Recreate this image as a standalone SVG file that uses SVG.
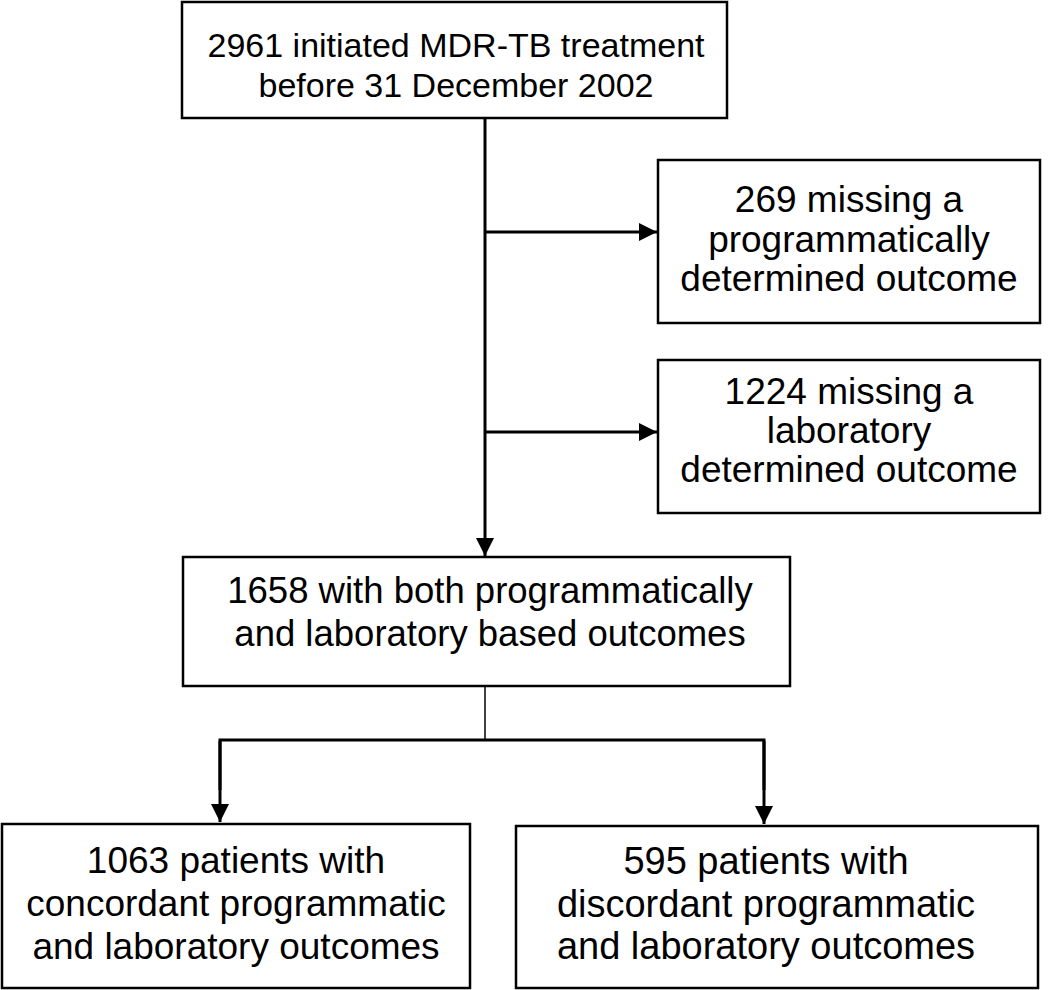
<svg xmlns="http://www.w3.org/2000/svg" width="1050" height="990" viewBox="0 0 1050 990">
<defs>
<style>
.box{fill:#fff;stroke:#000;stroke-width:2.5}
.t{font-family:"Liberation Sans",Arial,sans-serif;font-size:37px;fill:#000;text-anchor:middle}
.c{stroke:#000;stroke-width:3;fill:none}
.thin{stroke:#000;stroke-width:1.5;fill:none}
</style>
<marker id="ah" markerWidth="6" markerHeight="6" refX="6" refY="3" orient="auto" markerUnits="strokeWidth">
<path d="M0,0 L6,3 L0,6 Z" fill="#000"/>
</marker>
</defs>
<rect width="1050" height="990" fill="#fff"/>
<g id="connectors">
<line class="c" x1="485" y1="118" x2="485" y2="556" marker-end="url(#ah)"/>
<line class="c" x1="485" y1="232" x2="657" y2="232" marker-end="url(#ah)"/>
<line class="c" x1="485" y1="432" x2="657" y2="432" marker-end="url(#ah)"/>
<line class="thin" x1="485" y1="686" x2="485" y2="740"/>
<polyline class="c" points="220,790 220,740 764,740 764,790"/>
<line class="c" x1="220" y1="741" x2="220" y2="822" marker-end="url(#ah)"/>
<line class="c" x1="764" y1="741" x2="764" y2="824" marker-end="url(#ah)"/>
</g>
<g id="n1">
<rect class="box" x="182" y="2" width="545" height="116"/>
<text class="t" x="456" y="57" style="font-size:34px">2961 initiated MDR-TB treatment</text>
<text class="t" x="456" y="97" style="font-size:34px">before 31 December 2002</text>
</g>
<g id="n2">
<rect class="box" x="658" y="160" width="382" height="163"/>
<text class="t" x="849" y="212">269 missing a</text>
<text class="t" x="849" y="252">programmatically</text>
<text class="t" x="849" y="291">determined outcome</text>
</g>
<g id="n3">
<rect class="box" x="658" y="360" width="382" height="153"/>
<text class="t" x="849" y="404">1224 missing a</text>
<text class="t" x="849" y="443">laboratory</text>
<text class="t" x="849" y="482">determined outcome</text>
</g>
<g id="n4">
<rect class="box" x="183" y="557" width="607" height="129"/>
<text class="t" x="490" y="603" style="font-size:36.5px">1658 with both programmatically</text>
<text class="t" x="490" y="646" style="font-size:36.5px">and laboratory based outcomes</text>
</g>
<g id="n5">
<rect class="box" x="2" y="824" width="468" height="164"/>
<text class="t" x="236" y="873">1063 patients with</text>
<text class="t" x="236" y="916">concordant programmatic</text>
<text class="t" x="236" y="959">and laboratory outcomes</text>
</g>
<g id="n6">
<rect class="box" x="516" y="826" width="522" height="162"/>
<text class="t" x="766" y="874" style="font-size:38px">595 patients with</text>
<text class="t" x="766" y="917" style="font-size:38px">discordant programmatic</text>
<text class="t" x="766" y="959" style="font-size:38px">and laboratory outcomes</text>
</g>
</svg>
